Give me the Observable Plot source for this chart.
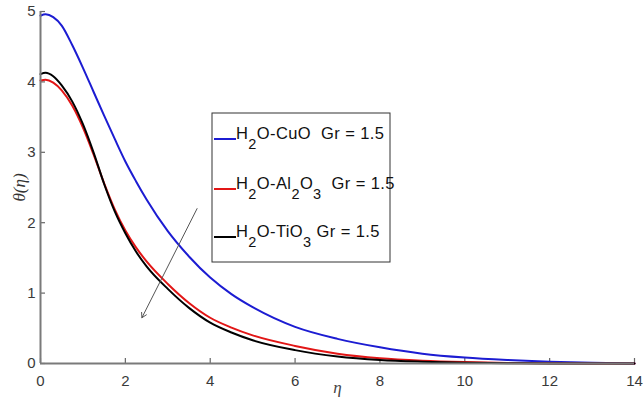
<!DOCTYPE html>
<html><head><meta charset="utf-8">
<script src="https://cdn.jsdelivr.net/npm/d3@7"></script>
<script src="https://cdn.jsdelivr.net/npm/@observablehq/plot@0.6"></script>
<style>body{margin:0;background:#fff}</style>
</head><body><div id="chart"></div>
<script>
// η grid and θ(η) values
const eta   = [0,    0.12, 0.3,  0.5,  0.75, 1.0,  1.25, 1.5,  1.75, 2.0,  2.25, 2.5,  3.0,  3.5,  4.0,  4.5,   5.0,  6.0,  7.0,  8.0,  9.0,  10.0,  11.0,  12.0,  13.0, 14.0];
const cuo   = [4.94, 4.96, 4.92, 4.80, 4.52, 4.20, 3.86, 3.52, 3.19, 2.87, 2.59, 2.33, 1.88, 1.52, 1.22, 0.985, 0.80, 0.52, 0.35, 0.23, 0.14, 0.085, 0.05,  0.025, 0.01, 0.0];
const al2o3 = [4.02, 4.03, 3.99, 3.88, 3.66, 3.35, 2.97, 2.56, 2.19, 1.89, 1.65, 1.45, 1.13, 0.86, 0.65, 0.51,  0.40, 0.25, 0.14, 0.075,0.04, 0.02,  0.008, 0.003, 0.0,  0.0];
const tio3  = [4.11, 4.13, 4.08, 3.95, 3.72, 3.40, 3.00, 2.55, 2.16, 1.85, 1.59, 1.38, 1.06, 0.79, 0.58, 0.44,  0.33, 0.19, 0.10, 0.05, 0.025,0.01,  0.005, 0.0,   0.0,  0.0];
const seriesNames = ["H2O-CuO", "H2O-Al2O3", "H2O-TiO3"];
const seriesColors = ["#1c1cd2", "#e21616", "#000000"];
const xTicks = [0, 2, 4, 6, 8, 10, 12, 14];
const yTicks = [0, 1, 2, 3, 4, 5];
// trend arrow (data coordinates)
const arrowStart = [3.69, 2.2];
const arrowEnd   = [2.39, 0.65];
// legend labels: segments [text, isSubscript]
const legendLabels = [
  [["H", 0], ["2", 1], ["O-CuO  Gr = 1.5", 0]],
  [["H", 0], ["2", 1], ["O-Al", 0], ["2", 1], ["O", 0], ["3", 1], ["  Gr = 1.5", 0]],
  [["H", 0], ["2", 1], ["O-TiO", 0], ["3", 1], [" Gr = 1.5", 0]]
];

const rows = [];
[cuo, al2o3, tio3].forEach((vals, i) => vals.forEach((v, j) => rows.push({series: seriesNames[i], eta: eta[j], theta: v})));

const W = 643, H = 398, mL = 40, mR = 9, mT = 11, mB = 35;
const fw = W - mL - mR, fh = H - mT - mB;
const sans = "'Liberation Sans Narrow','Liberation Sans',Arial,sans-serif";

const plot = Plot.plot({
  width: W, height: H, marginLeft: mL, marginRight: mR, marginTop: mT, marginBottom: mB,
  style: {fontFamily: sans, fontSize: "15px", color: "#3a3a3a", background: "#fff"},
  x: {domain: [0, 14]},
  y: {domain: [0, 5]},
  color: {domain: seriesNames, range: seriesColors},
  marks: [
    Plot.axisX({ticks: xTicks, tickSize: 0, tickPadding: 12, label: null, tickFormat: d3.format("d")}),
    Plot.axisY({ticks: yTicks, tickSize: 0, tickPadding: 5, label: null, tickFormat: d3.format("d")}),
    Plot.tickX(xTicks, {x: d => d, stroke: "#666", strokeWidth: 1.2, insetTop: fh - 5}),
    Plot.tickY(yTicks, {y: d => d, stroke: "#666", strokeWidth: 1.2, insetRight: fw - 5}),
    Plot.line(rows, {x: "eta", y: "theta", stroke: "series", strokeWidth: 2, curve: "monotone-x"}),
    Plot.ruleX([0], {stroke: "#7a7a7a", strokeWidth: 2}),
    Plot.ruleY([0], {stroke: "#7a7a7a", strokeWidth: 2}),
    Plot.arrow([{x1: arrowStart[0], y1: arrowStart[1], x2: arrowEnd[0], y2: arrowEnd[1]}],
      {x1: "x1", y1: "y1", x2: "x2", y2: "y2", stroke: "#555", strokeWidth: 1, headLength: 8}),
    Plot.text(["θ(η)"], {frameAnchor: "left", dx: -21, rotate: -90, textAnchor: "middle", lineAnchor: "middle",
      fontFamily: "'Liberation Serif',serif", fontStyle: "italic", fontSize: 17, fill: "#333"}),
    Plot.text(["η"], {frameAnchor: "bottom", dy: 24, textAnchor: "middle", lineAnchor: "middle",
      fontFamily: "'Liberation Serif',serif", fontStyle: "italic", fontSize: 17, fill: "#444"})
  ]
});

// legend box
const svg = d3.select(plot);
const lg = svg.append("g").attr("font-family", sans).attr("font-size", 16.5).attr("fill", "#111")
  .attr("text-anchor", "start");
lg.append("rect").attr("x", 212).attr("y", 113).attr("width", 178).attr("height", 149)
  .attr("fill", "#fff").attr("stroke", "#333").attr("stroke-width", 1);
const rowY = [139, 189, 237];
legendLabels.forEach((segs, i) => {
  lg.append("line").attr("x1", 214).attr("x2", 236).attr("y1", rowY[i]).attr("y2", rowY[i])
    .attr("stroke", seriesColors[i]).attr("stroke-width", 2);
  const t = lg.append("text").attr("x", 236).attr("y", rowY[i]).attr("text-anchor", "start")
    .attr("letter-spacing", 0.4).style("white-space", "pre");
  let sub = false;
  segs.forEach(([s, isSub]) => {
    const ts = t.append("tspan").text(s);
    if (isSub) ts.attr("font-size", 14.5);
    if (isSub && !sub) { ts.attr("dy", 10); sub = true; }
    else if (!isSub && sub) { ts.attr("dy", -10); sub = false; }
  });
});

document.getElementById("chart").append(plot);
</script>
</body></html>
